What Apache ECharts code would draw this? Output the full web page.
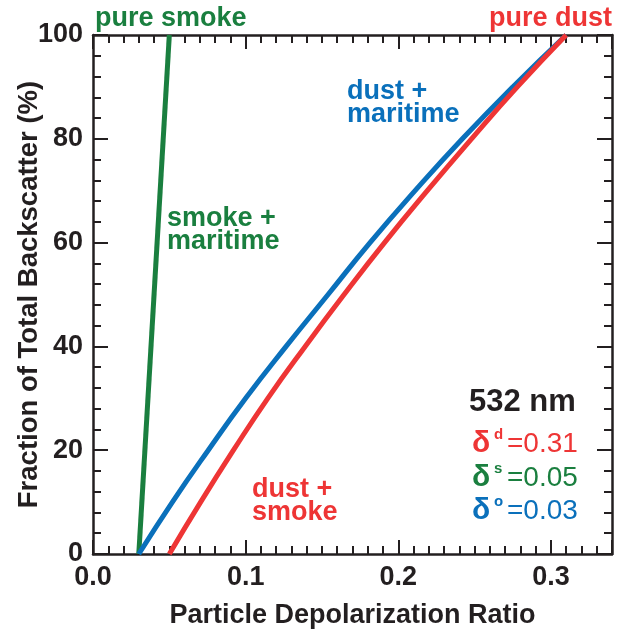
<!DOCTYPE html>
<html>
<head>
    <meta charset="UTF-8">
    <title>Particle Depolarization Ratio</title>
    <script src="https://cdn.jsdelivr.net/npm/echarts@6/dist/echarts.min.js"></script>
    <style>
        html, body { margin: 0; padding: 0; background: #fff; }
        #chart { width: 630px; height: 630px; }
    </style>
</head>
<body>
    <div id="chart"></div>

    <script>
        // curves: [depolarization ratio, fraction %]
        const fraction = [0, 10, 20, 30, 40, 50, 60, 70, 80, 90, 100];
        const smokeMaritime = [[0.030, 0], [0.050, 100]];
        const dustMaritimeX = [0.030, 0.052, 0.0755, 0.100, 0.1265, 0.154, 0.1815, 0.211, 0.242, 0.275, 0.310];
        const dustSmokeX = [0.050, 0.0705, 0.092, 0.1145, 0.139, 0.1645, 0.191, 0.219, 0.248, 0.278, 0.310];

        const GREEN = '#1a7f3f';
        const BLUE = '#0a70bb';
        const RED = '#ee3535';
        const INK = '#231f20';
        const FONT = '"Liberation Sans", Arial, sans-serif';

        const chart = echarts.init(document.getElementById('chart'));

        function xAx(pos, interval, len, withLabel) {
            return {
                type: 'value', position: pos, min: 0, max: 0.34, interval: interval,
                axisLine: { show: withLabel !== null, onZero: false, lineStyle: { color: INK, width: 2.5 } },
                axisTick: { inside: true, length: len, lineStyle: { color: INK, width: 2 } },
                axisLabel: withLabel ? {
                    margin: 10, color: INK, fontFamily: FONT, fontWeight: 'bold', fontSize: 27,
                    formatter: v => Math.abs(v * 10 - Math.round(v * 10)) < 1e-6 ? v.toFixed(1) : ''
                } : { show: false },
                splitLine: { show: false }
            };
        }
        function yAx(pos, interval, len, withLabel) {
            return {
                type: 'value', position: pos, min: 0, max: 100, interval: interval,
                axisLine: { show: withLabel !== null, onZero: false, lineStyle: { color: INK, width: 2.5 } },
                axisTick: { inside: true, length: len, lineStyle: { color: INK, width: 2 } },
                axisLabel: withLabel ? {
                    margin: 10, color: INK, fontFamily: FONT, fontWeight: 'bold', fontSize: 27
                } : { show: false },
                splitLine: { show: false }
            };
        }

        const xMain = xAx('bottom', 0.1, 14, true);
        xMain.name = 'Particle Depolarization Ratio';
        xMain.nameLocation = 'middle';
        xMain.nameGap = 48;
        xMain.nameMoveOverlap = false;
        xMain.nameTextStyle = { color: INK, fontFamily: FONT, fontWeight: 'bold', fontSize: 27 };

        const yMain = yAx('left', 20, 15, true);
        yMain.name = 'Fraction of Total Backscatter (%)';
        yMain.nameLocation = 'middle';
        yMain.nameGap = 50;
        yMain.nameMoveOverlap = false;
        yMain.nameTextStyle = { color: INK, fontFamily: FONT, fontWeight: 'bold', fontSize: 27.5 };

        function label(text, x, y, color) {
            return {
                type: 'text', left: x, top: y,
                style: { text: text, fill: color, font: 'bold 27px ' + FONT, lineHeight: 23 }
            };
        }
        function delta(sup, value, y, color) {
            return [
                { type: 'text', left: 472, top: y - 1, style: { text: 'δ', fill: color, font: 'bold 30px ' + FONT } },
                { type: 'text', left: 494, top: y - 3, style: { text: sup, fill: color, font: 'bold 15px ' + FONT } },
                { type: 'text', left: 507, top: y, style: { text: '=' + value, fill: color, font: '28px ' + FONT } }
            ];
        }

        const option = {
            animation: false,
            grid: { left: 93, right: 18, top: 35, bottom: 76, outerBoundsMode: 'none' },
            xAxis: [
                xMain,
                xAx('bottom', 0.01, 8, null),
                xAx('top', 0.1, 14, false),
                xAx('top', 0.01, 8, null)
            ],
            yAxis: [
                yMain,
                yAx('left', 4, 8, null),
                yAx('right', 20, 15, false),
                yAx('right', 4, 8, null)
            ],
            series: [
                { type: 'line', data: smokeMaritime, showSymbol: false, lineStyle: { color: GREEN, width: 5 } },
                { type: 'line', data: dustMaritimeX.map((x, i) => [x, fraction[i]]), smooth: true, showSymbol: false, lineStyle: { color: BLUE, width: 5 } },
                { type: 'line', data: dustSmokeX.map((x, i) => [x, fraction[i]]), smooth: true, showSymbol: false, lineStyle: { color: RED, width: 5 } }
            ],
            graphic: [
                label('pure smoke', 95, 5, GREEN),
                label('pure dust', 489, 5, RED),
                label('dust +\nmaritime', 347, 78, BLUE),
                label('smoke +\nmaritime', 167, 205, GREEN),
                label('dust +\nsmoke', 252, 476, RED),
                { type: 'text', left: 469, top: 387, style: { text: '532 nm', fill: INK, font: 'bold 31px ' + FONT } }
            ].concat(
                delta('d', '0.31', 430, RED),
                delta('s', '0.05', 464, GREEN),
                delta('o', '0.03', 497, BLUE)
            )
        };

        chart.setOption(option);
    </script>
</body>
</html>
